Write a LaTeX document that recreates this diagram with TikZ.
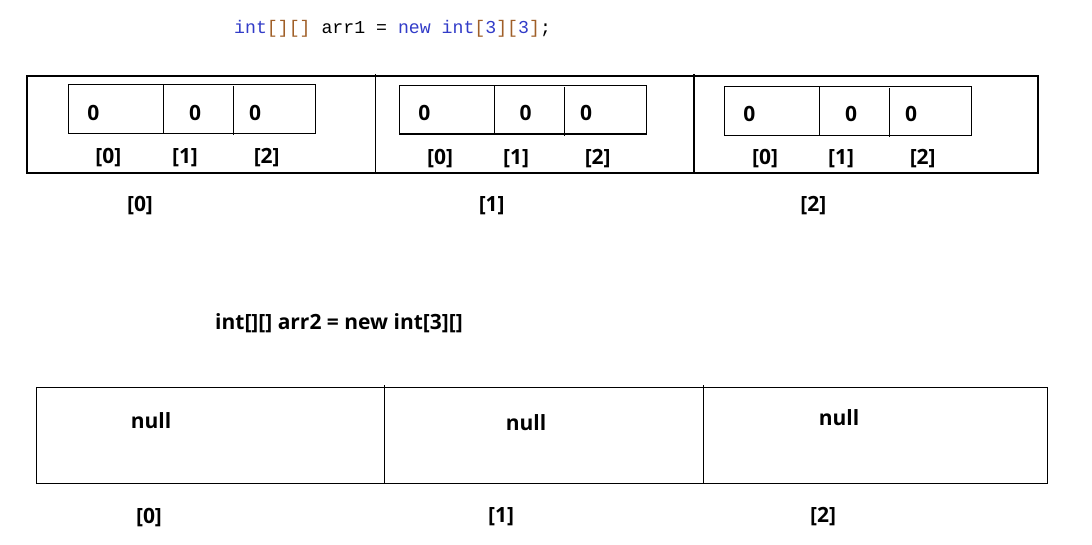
\documentclass[tikz,border=0pt]{standalone}
\usepackage{fontspec}
\setmainfont{Open Sans}
\newfontfamily\codefont{Liberation Mono}
\definecolor{kw}{RGB}{50,60,200}
\definecolor{br}{RGB}{160,95,40}
\begin{document}
\begin{tikzpicture}[x=1pt,y=-1pt,
  lbl/.style={font=\fontsize{21}{21}\selectfont\bfseries, inner sep=0pt},
  code/.style={font=\codefont\fontsize{18.2}{18.2}\selectfont, inner sep=0pt, anchor=west},
  frame/.style={draw, line width=1.1pt}]
\useasboundingbox (0,0) rectangle (1092,544);
% first declaration
\node[code] (code1) at (234,29) {\textcolor{kw}{int}\textcolor{br}{[][]} arr1 = \textcolor{kw}{new int}\textcolor{br}{[}\textcolor{kw}{3}\textcolor{br}{][}\textcolor{kw}{3}\textcolor{br}{]};};
% outer array
\draw[frame] (27,76) rectangle (1038,173);
\draw[frame] (375.5,74) -- (375.5,173);
\draw[frame] (694,74) -- (694,173);
% inner arrays
\foreach \xa/\ya/\xb/\yb/\da/\db [count=\i] in {
  68.3/84.3/315.3/133.3/163.3/233.3,
  399.3/85.3/646.3/134/494.3/564.3,
  724.3/86.3/971.7/135.3/819.3/889.3} {
  \draw[frame] (\xa,\ya) rectangle (\xb,\yb);
  \draw[frame] (\da,\ya) -- (\da,\yb);
  \draw[frame] (\db,\ya+1.5) -- (\db,\yb+1.5);
}
% zeros
\node[lbl] (z00) at (93.3,112.7) {0};
\node[lbl] (z01) at (195,112.7) {0};
\node[lbl] (z02) at (255,112.7) {0};
\node[lbl] (z10) at (424.3,113.3) {0};
\node[lbl] (z11) at (525.7,113.3) {0};
\node[lbl] (z12) at (586,113.3) {0};
\node[lbl] (z20) at (749.3,114.3) {0};
\node[lbl] (z21) at (851,114.3) {0};
\node[lbl] (z22) at (911,114.3) {0};
% inner indices
\node[lbl] (i00) at (108.3,157.3) {[0]};
\node[lbl] (i01) at (185,157.3) {[1]};
\node[lbl] (i02) at (266.7,157.3) {[2]};
\node[lbl] (i10) at (440,158.3) {[0]};
\node[lbl] (i11) at (516,158.3) {[1]};
\node[lbl] (i12) at (597.7,158.3) {[2]};
\node[lbl] (i20) at (765,159) {[0]};
\node[lbl] (i21) at (841,159) {[1]};
\node[lbl] (i22) at (922.7,159) {[2]};
% outer indices
\node[lbl] (o0) at (140,206) {[0]};
\node[lbl] (o1) at (491.7,206) {[1]};
\node[lbl] (o2) at (813.3,206) {[2]};
% second declaration
\node[lbl, anchor=west] (code2) at (215,323.3) {int[][] arr2 = new int[3][]};
\draw[frame] (36.3,387.3) rectangle (1047.4,483.7);
\draw[frame] (384.3,385) -- (384.3,483.7);
\draw[frame] (703.4,385) -- (703.4,483.7);
\node[lbl] (n0) at (151,421) {null};
\node[lbl] (n1) at (526,423) {null};
\node[lbl] (n2) at (839,418) {null};
\node[lbl] (b0) at (149,517.3) {[0]};
\node[lbl] (b1) at (501,517) {[1]};
\node[lbl] (b2) at (823,517) {[2]};
\end{tikzpicture}
\end{document}
